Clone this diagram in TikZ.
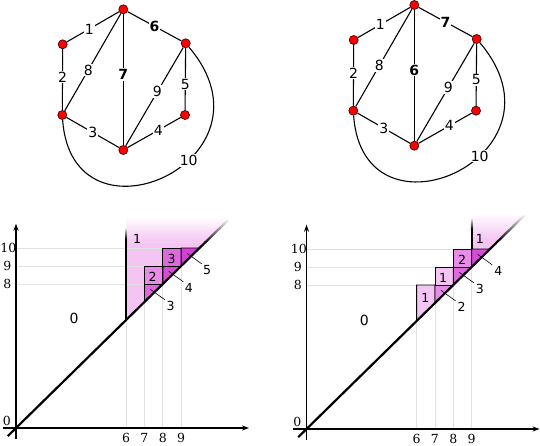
\documentclass[tikz,border=0pt]{standalone}
\usepackage{fontspec}
\setmainfont{DejaVu Sans}
\newfontfamily\tickfont{DejaVu Serif}
\usetikzlibrary{arrows.meta}
\definecolor{vone}{RGB}{244,196,242}
\definecolor{vtwo}{RGB}{232,140,232}
\definecolor{vthree}{RGB}{222,104,222}
\definecolor{vfour}{RGB}{214,76,214}
\definecolor{vfive}{RGB}{210,66,210}
\definecolor{gridc}{RGB}{226,226,226}
\definecolor{nodered}{RGB}{255,0,0}

\tikzset{
  vtx/.style={circle, fill=nodered, draw=black!75!red, line width=0.7pt, minimum size=9pt, inner sep=0pt},
  gedge/.style={line width=1.1pt},
  elbl/.style={fill=white, inner sep=1pt, font=\fontsize{14}{16}\selectfont},
  axisl/.style={line width=1.1pt, -{Stealth[length=7pt,width=5pt]}},
  gridl/.style={draw=gridc, line width=0.8pt},
  boxo/.style={draw=black, line width=0.9pt},
  thickl/.style={line width=2pt},
  diagl/.style={line width=2.2pt},
  leader/.style={line width=0.6pt},
  bigl/.style={font=\fontsize{14}{16}\selectfont},
  smalll/.style={font=\fontsize{12.5}{14}\selectfont, inner sep=0pt},
  tickl/.style={font=\tickfont\fontsize{12.5}{14}\selectfont, inner sep=0pt}
}

\newcommand\drawgraph[3]{%
  \node[vtx] (#1T) at (123.3,9.3) {};
  \node[vtx] (#1UL) at (62.7,44.3) {};
  \node[vtx] (#1UR) at (185.7,43.3) {};
  \node[vtx] (#1LL) at (62.3,115) {};
  \node[vtx] (#1B) at (123.3,150) {};
  \node[vtx] (#1LR) at (185,115) {};
  \draw[gedge] (#1UL) -- node[elbl,pos=0.43] (#1e1) {1} (#1T);
  \draw[gedge] (#1T) -- node[elbl,pos=0.5] (#1e2) {\bfseries #2} (#1UR);
  \draw[gedge] (#1UL) -- node[elbl,pos=0.46] (#1e3) {2} (#1LL);
  \draw[gedge] (#1LL) -- node[elbl,pos=0.42] (#1e4) {8} (#1T);
  \draw[gedge] (#1T) -- node[elbl,pos=0.46] (#1e5) {\bfseries #3} (#1B);
  \draw[gedge] (#1B) -- node[elbl,pos=0.55] (#1e6) {9} (#1UR);
  \draw[gedge] (#1UR) -- node[elbl,pos=0.58] (#1e7) {5} (#1LR);
  \draw[gedge] (#1LL) -- node[elbl,pos=0.5] (#1e8) {3} (#1B);
  \draw[gedge] (#1B) -- node[elbl,pos=0.58] (#1e9) {4} (#1LR);
  \draw[gedge] (#1LL) .. controls +(9.7,140) and +(99.3,116.7) .. node[elbl,pos=0.6] (#1e10) {10} (#1UR);
}

\newcommand\plotaxes[1]{%
  \draw[axisl] (-0.72,0) -- (12.7,0);
  \draw[axisl] (0,-0.62) -- (0,11.35);
  \foreach \v in {6,...,9} \node[tickl] (#1x\v) at (\v,-0.55) {\v};
  \foreach \v in {8,9} \node[tickl] (#1y\v) at (-0.47,\v) {\v};
  \node[tickl] (#1y10) at (-0.42,10) {10};
  \node[tickl] (#1y0) at (-0.5,0.42) {0};
}

\newcommand\fadeline[2]{% diagonal fade from #1 to #2
  \shade[top color=white,bottom color=black] (#1-0.045,#1+0.045) -- (#2-0.045,#2+0.045) -- (#2+0.045,#2-0.045) -- (#1+0.045,#1-0.045) -- cycle;
}

\begin{document}
\begin{tikzpicture}[x=1pt,y=-1pt]
\useasboundingbox (0,0) rectangle (540,445);

% ---------------- graphs
\drawgraph{l}{6}{7}
\begin{scope}[shift={(291,-4.3)}]
\drawgraph{r}{7}{6}
\end{scope}

% ---------------- left diagram
\begin{scope}[shift={(16,428)}, x=18.35pt, y=18pt]
  \fill[vone] (6,6) -- (6,10.3) -- (10.3,10.3) -- cycle;
  \shade[top color=white, bottom color=vone] (6,10.3) -- (6,11.75) -- (11.75,11.75) -- (10.3,10.3) -- cycle;
  \foreach \v in {6,...,9} \draw[gridl] (\v,0) -- (\v,\v);
  \foreach \v in {8,9,10} \draw[gridl] (0,\v) -- (\v,\v);
  \filldraw[boxo,fill=vthree] (7,7) -- (7,8) -- (8,8) -- cycle;
  \filldraw[boxo,fill=vtwo] (7,8) rectangle (8,9);
  \filldraw[boxo,fill=vfour] (8,8) -- (8,9) -- (9,9) -- cycle;
  \filldraw[boxo,fill=vthree] (8,9) rectangle (9,10);
  \filldraw[boxo,fill=vfive] (9,9) -- (9,10) -- (10,10) -- cycle;
  \plotaxes{la}
  \draw[thickl] (6,6) -- (6,10.5);
  \shade[top color=white,bottom color=black] (5.955,10.5) rectangle (6.045,11.15);
  \draw[diagl] (-0.45,-0.45) -- (10.3,10.3);
  \fadeline{10.3}{11.6}
  \foreach \a/\t in {7/3,8/4,9/5} {
    \draw[leader] (\a+0.33,\a+0.7) -- (\a+1.12,\a+0.12);
    \node[smalll] (lt\t) at (\a+1.42,\a-0.2) {\t};
  }
  \node[smalll] (lb2) at (7.45,8.42) {2};
  \node[smalll] (lb3) at (8.48,9.4) {3};
  \node[smalll] (lb1) at (6.6,10.5) {1};
  \node[bigl] (lz) at (3.16,6.1) {0};
\end{scope}

% ---------------- right diagram
\begin{scope}[shift={(306.5,429)}, x=18.35pt, y=18pt]
  \fill[vone] (9,10) -- (9,10.5) -- (10.5,10.5) -- (10,10) -- cycle;
  \shade[top color=white, bottom color=vone] (9,10.5) -- (9,12) -- (12,12) -- (10.5,10.5) -- cycle;
  \foreach \v in {6,...,9} \draw[gridl] (\v,0) -- (\v,\v);
  \foreach \v in {8,9,10} \draw[gridl] (0,\v) -- (\v,\v);
  \filldraw[boxo,fill=vone] (6,6) -- (6,8) -- (7,8) -- (7,7) -- cycle;
  \filldraw[boxo,fill=vtwo] (7,7) -- (7,8) -- (8,8) -- cycle;
  \filldraw[boxo,fill=vone] (7,8) rectangle (8,9);
  \filldraw[boxo,fill=vthree] (8,8) -- (8,9) -- (9,9) -- cycle;
  \filldraw[boxo,fill=vtwo] (8,9) rectangle (9,10);
  \filldraw[boxo,fill=vfour] (9,9) -- (9,10) -- (10,10) -- cycle;
  \plotaxes{ra}
  \draw[thickl] (9,10) -- (9,11.1);
  \shade[top color=white,bottom color=black] (8.955,11.1) rectangle (9.045,11.75);
  \draw[diagl] (-0.45,-0.45) -- (10.5,10.5);
  \fadeline{10.5}{11.9}
  \foreach \a/\t in {7/2,8/3,9/4} {
    \draw[leader] (\a+0.33,\a+0.7) -- (\a+1.12,\a+0.12);
    \node[smalll] (rt\t) at (\a+1.45,\a-0.2) {\t};
  }
  \node[smalll] (rb1a) at (6.48,7.3) {1};
  \node[smalll] (rb1b) at (7.45,8.42) {1};
  \node[smalll] (rb2) at (8.48,9.4) {2};
  \node[smalll] (rb1c) at (9.45,10.55) {1};
  \node[bigl] (rz) at (3.15,6.05) {0};
\end{scope}
\end{tikzpicture}
\end{document}
